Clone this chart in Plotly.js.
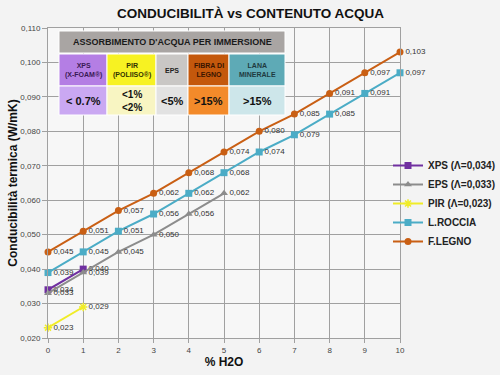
<!DOCTYPE html>
<html>
<head>
<meta charset="utf-8">
<script src="https://cdn.plot.ly/plotly-3.0.1.min.js"></script>
<style>html,body{margin:0;padding:0;background:#f3f3f3;}#chart{width:500px;height:375px;}</style>
</head>
<body>
<div id="chart"></div>
<script>
// ---- data ----
const xAll = [0,1,2,3,4,5,6,7,8,9,10];
const xpsX = [0,1];
const xpsY = [0.034,0.040];
const epsX = [0,1,2,3,4,5];
const epsY = [0.033,0.039,0.045,0.050,0.056,0.062];
const pirX = [0,1];
const pirY = [0.023,0.029];
const rocciaY = [0.039,0.045,0.051,0.056,0.062,0.068,0.074,0.079,0.085,0.091,0.097];
const legnoY = [0.045,0.051,0.057,0.062,0.068,0.074,0.080,0.085,0.091,0.097,0.103];
const seriesNames = ['XPS (\u039b=0,034)','EPS (\u039b=0,033)','PIR (\u039b=0,023)','L.ROCCIA','F.LEGNO'];

const tableHeader = "ASSORBIMENTO D'ACQUA PER IMMERSIONE";
const tableMaterials = ['XPS<br>(X-FOAM\u00ae)','PIR<br>(POLIISO\u00ae)','EPS','FIBRA DI<br>LEGNO','LANA<br>MINERALE'];
const tableValues = ['< 0.7%','<1%<br><2%','<5%','>15%','>15%'];

// ---- styling ----
const FONT = 'Liberation Sans, Arial, sans-serif';
const labelFont = {family: FONT, size: 8, color: '#333'};
function tr(x, y, name, color, symbol, msize){
  return {x: x, y: y, name: '<b>' + name + '</b>', type: 'scatter', mode: 'lines+markers+text',
    line: {color: color, width: 2}, marker: {color: color, symbol: symbol, size: msize},
    texttemplate: '%{y:.3f}', textposition: 'middle right',
    textfont: labelFont, cliponaxis: false};
}
const traces = [
  tr(xpsX, xpsY, seriesNames[0], '#7030a0', 'square', 7),
  tr(epsX, epsY, seriesNames[1], '#8c8c8c', 'triangle-up', 7),
  tr(pirX, pirY, seriesNames[2], '#f0ec28', 'asterisk-open', 7),
  tr(xAll, rocciaY, seriesNames[3], '#4bacc6', 'square', 7),
  tr(xAll, legnoY, seriesNames[4], '#c95f14', 'circle', 7)
];
traces[2].marker.line = {color: '#f0ec28', width: 1.5};

// table geometry (pixels -> paper)
const L = 48, R = 400, T = 28, B = 338;
const px = v => (v - L) / (R - L);
const py = v => (B - v) / (B - T);
const colX = [59,107,156,188,229,285];
const topColors = ['#b47ee4','#f7f222','#c9c7c5','#c4580c','#5eaab6'];
const botColors = ['#caa8f2','#f8f5c2','#e2e2e2','#f38a2a','#cde6ea'];
const nameColors = ['#3a1a55','#333300','#222','#3a1500','#1e3a40'];
const shapes = [];
const ann = [];
function note(x, y, text, font){
  return {xref:'paper', yref:'paper', x:x, y:y, text:text, showarrow:false, font:font,
    xanchor:'center', yanchor:'middle', align:'center'};
}
shapes.push({type:'rect', xref:'paper', yref:'paper', x0:px(59), x1:px(285), y0:py(53), y1:py(31),
  fillcolor:'#a9a5a3', line:{color:'#ffffff', width:1}, layer:'above'});
ann.push(note((px(59)+px(285))/2, py(42), '<b>'+tableHeader+'</b>', {family:FONT, size:9, color:'#1a1a1a'}));
for (let i = 0; i < 5; i++) {
  shapes.push({type:'rect', xref:'paper', yref:'paper', x0:px(colX[i]), x1:px(colX[i+1]), y0:py(86), y1:py(54),
    fillcolor:topColors[i], line:{color:'#ffffff', width:1}, layer:'above'});
  shapes.push({type:'rect', xref:'paper', yref:'paper', x0:px(colX[i]), x1:px(colX[i+1]), y0:py(115), y1:py(86),
    fillcolor:botColors[i], line:{color:'#ffffff', width:1}, layer:'above'});
  const cx = (px(colX[i]) + px(colX[i+1])) / 2;
  ann.push(note(cx, py(70), '<b>'+tableMaterials[i]+'</b>', {family:FONT, size:7, color:nameColors[i]}));
  ann.push(note(cx, py(100.5), '<b>'+tableValues[i]+'</b>', {family:FONT, size:i === 1 ? 10 : 11, color:'#111'}));
}
ann.push(note(px(250), py(14), '<b>CONDUCIBILIT\u00c0 vs CONTENUTO ACQUA</b>', {family:FONT, size:13.5, color:'#111'}));

const layout = {
  width: 500, height: 375,
  margin: {l: L, r: 500 - R, t: T, b: 375 - B, autoexpand: false},
  paper_bgcolor: '#f3f3f3', plot_bgcolor: '#f7f7f7',
  separators: ',.',
  showlegend: true,
  legend: {x: px(388), y: py(151), xanchor: 'left', yanchor: 'top', bgcolor: 'rgba(0,0,0,0)',
    font: {family: FONT, size: 10, color: '#222'}, itemwidth: 30, tracegroupgap: 0},
  xaxis: {range: [0, 10], dtick: 1, tick0: 0, showgrid: true, gridcolor: '#a0a0a0', gridwidth: 1,
    ticks: 'outside', ticklen: 4, tickcolor: '#a0a0a0', zeroline: false, automargin: false,
    showline: true, linecolor: '#a0a0a0', mirror: true,
    tickfont: {family: FONT, size: 8, color: '#444'},
    title: {text: '<b>% H2O</b>', font: {family: FONT, size: 12, color: '#111'}, standoff: 4}},
  yaxis: {range: [0.020, 0.110], dtick: 0.01, tick0: 0.02, tickformat: '.3f', showgrid: true, gridcolor: '#a0a0a0',
    gridwidth: 1, ticks: 'outside', ticklen: 5, tickcolor: '#a0a0a0', zeroline: false, automargin: false,
    showline: true, linecolor: '#a0a0a0', mirror: true,
    tickfont: {family: FONT, size: 8, color: '#444'},
    title: {text: '<b>Conducibilit\u00e0 termica (W/mK)</b>', font: {family: FONT, size: 12, color: '#111'}, standoff: 0}},
  shapes: shapes,
  annotations: ann
};
Plotly.newPlot('chart', traces, layout, {displayModeBar: false, staticPlot: true});
</script>
</body>
</html>
